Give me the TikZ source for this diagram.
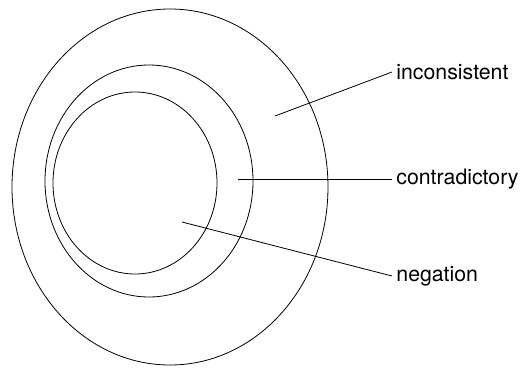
\documentclass[tikz,border=0pt]{standalone}
\usepackage{fontspec}
\setmainfont{TeX Gyre Heros}
\begin{document}
\begin{tikzpicture}[x=1pt, y=-1pt, line width=0.8pt,
    lbl/.style={anchor=west, inner sep=4pt, font=\fontsize{21.3}{25}\selectfont}]
    \useasboundingbox (0,0) rectangle (521,367);

    % three nested regions
    \draw (170,187) ellipse [x radius=158, y radius=178];
    \draw (149,181) ellipse [x radius=104, y radius=116];
    \draw (135,183) ellipse [x radius=82, y radius=91];

    % labels on the right
    \node[lbl] (inc) at (392,72) {inconsistent};
    \node[lbl] (con) at (392,179) {contradictory};
    \node[lbl] (neg) at (392,276) {negation};

    % free ends of the pointer lines
    \coordinate (pinc) at (275,116);
    \coordinate (pcon) at (238,179);
    \coordinate (pneg) at (182,222);

    \draw (pinc) -- (inc.west);
    \draw (pcon) -- (con.west);
    \draw (pneg) -- (neg.west);

\end{tikzpicture}
\end{document}
